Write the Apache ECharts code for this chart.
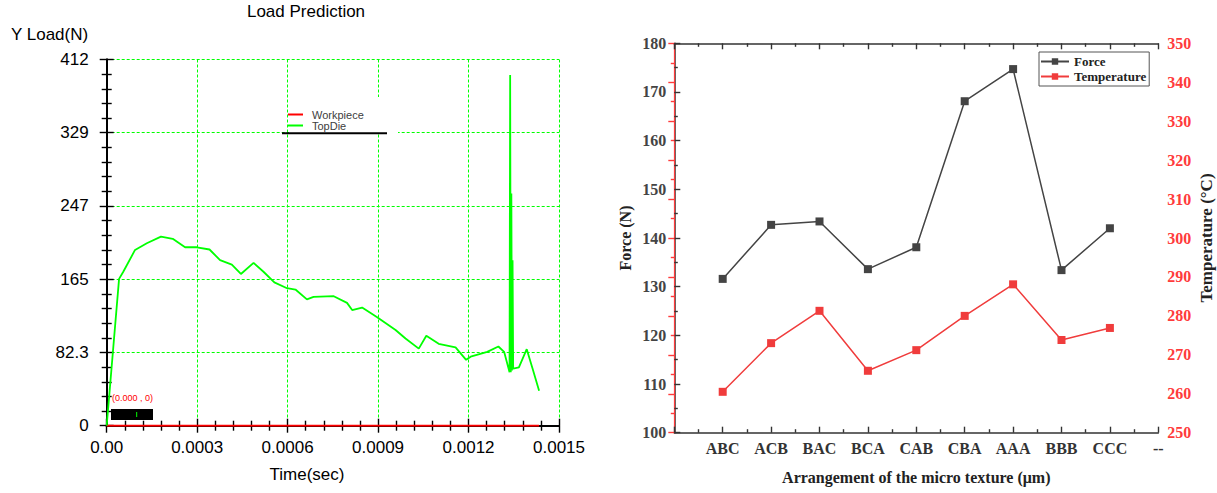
<!DOCTYPE html>
<html>
<head>
<meta charset="utf-8">
<title>Load Prediction / Force and Temperature</title>
<script src="https://cdn.jsdelivr.net/npm/echarts@6.0.0/dist/echarts.min.js"></script>
<style>
  html, body { margin: 0; padding: 0; background: #fff; }
  #main { width: 1217px; height: 493px; }
</style>
</head>
<body>
<div id="main"></div>
<script>
// left panel: load prediction (time in sec, load in N)
var topDieTime = [0, 0.000041, 0.000055, 0.000094, 0.000133, 0.00018, 0.000219, 0.00026, 0.000299,
  0.000341, 0.000376, 0.000415, 0.000445, 0.000487, 0.00052, 0.000556, 0.000598, 0.000626, 0.000664,
  0.000686, 0.000753, 0.000797, 0.000814, 0.000847, 0.000897, 0.000958, 0.000991, 0.001035, 0.00106,
  0.001101, 0.001157, 0.001192, 0.001207, 0.001262, 0.001299, 0.001318, 0.001336, 0.001338, 0.00134,
  0.001342, 0.001344, 0.001346, 0.001348, 0.001367, 0.001393, 0.001412, 0.001434];
var topDieLoad = [0, 165, 173, 197.5, 205, 212.5, 210, 200.5, 200.5,
  198, 186, 181, 170.5, 183, 173, 161, 154.5, 153, 142,
  144.7, 145.5, 138, 130, 132.7, 121.9, 107.6, 98, 86.6, 101,
  92, 88, 74, 77.6, 83, 89, 83, 60, 394, 60,
  261, 62, 186, 64, 65.6, 86, 64.5, 39.3];
var workpieceTime = [0, 0.001434];
var workpieceLoad = [0, 0];
var loadTickLabels = ['0', '82.3', '165', '247', '329', '412'];

// right panel: force / temperature per texture arrangement
var categories = ['ABC', 'ACB', 'BAC', 'BCA', 'CAB', 'CBA', 'AAA', 'BBB', 'CCC'];
var force = [131.6, 142.7, 143.4, 133.6, 138.1, 168.1, 174.7, 133.4, 142.0];
var temperature = [260.5, 273.0, 281.3, 265.9, 271.2, 280.0, 288.1, 273.8, 276.9];
var arrangeTickLabels = [''].concat(categories, ['--']);

var sans = 'Liberation Sans, Arial, sans-serif';
var serif = 'Liberation Serif, Times New Roman, serif';
var red = '#ff3b3b';

function zip(a, b) {
  var out = [];
  for (var i = 0; i < a.length; i++) out.push([a[i], b[i]]);
  return out;
}

// ticks drawn towards the plot (negative length)
function ticks(color, major, minor, split) {
  return {
    axisTick: { show: true, inside: false, length: -major, lineStyle: { color: color, width: 1.4 } },
    minorTick: { show: true, splitNumber: split, length: -minor, lineStyle: { color: color, width: 1.4 } }
  };
}

var chart = echarts.init(document.getElementById('main'), null, { renderer: 'svg' });

var greenGrid = { show: true, lineStyle: { color: '#00ff00', width: 1, type: [3, 2] } };
var leftTicks = ticks('#000', 7, 5, 5);
var rightTicks = ticks('#333', 6, 3.5, 2);
var redTicks = ticks(red, 6, 3.5, 2);

chart.setOption({
  animation: false,
  title: [
    { text: 'Load Prediction', left: 306, top: 3, padding: 0, textAlign: 'center',
      textStyle: { fontFamily: sans, fontSize: 17, fontWeight: 'normal', color: '#000' } },
    { text: 'Y Load(N)', left: 11, top: 26, padding: 0,
      textStyle: { fontFamily: sans, fontSize: 17, fontWeight: 'normal', color: '#000' } },
    { text: 'Time(sec)', left: 307, top: 466, padding: 0, textAlign: 'center',
      textStyle: { fontFamily: sans, fontSize: 17, fontWeight: 'normal', color: '#000' } }
  ],
  legend: [
    { data: ['Workpiece', 'TopDie'], left: 288, top: 109, orient: 'vertical', padding: 0,
      icon: 'rect', itemWidth: 15, itemHeight: 2, itemGap: 0,
      textStyle: { fontFamily: sans, fontSize: 11, lineHeight: 11, color: '#404040', padding: [0, 0, 0, 4] } },
    { data: ['Force', 'Temperature'], left: 1039, top: 52, orient: 'vertical',
      padding: [3, 3, 3, 1], itemWidth: 28, itemHeight: 8, itemGap: 2,
      borderColor: '#555', borderWidth: 1,
      textStyle: { fontFamily: serif, fontSize: 13, fontWeight: 'bold', color: '#222' } }
  ],
  grid: [
    { left: 106.7, top: 59.5, width: 452.3, height: 366.2 },
    { left: 674.3, top: 43.3, width: 484, height: 389.4 }
  ],
  xAxis: [
    Object.assign({ type: 'value', gridIndex: 0, min: 0, max: 0.0015, interval: 0.0003,
      axisLine: { lineStyle: { color: '#000', width: 2 } },
      splitLine: greenGrid,
      axisLabel: { margin: 13, fontFamily: sans, fontSize: 17, color: '#000',
        formatter: function (v) { return v === 0 ? '0.00' : v.toFixed(4); } } }, leftTicks),
    Object.assign({ type: 'value', gridIndex: 0, position: 'top', min: 0, max: 0.0015, interval: 0.0003,
      axisLine: { lineStyle: { color: '#000', width: 2 } },
      splitLine: { show: false }, axisLabel: { show: false } }, leftTicks),
    Object.assign({ type: 'value', gridIndex: 1, min: 0, max: 10, interval: 1,
      name: 'Arrangement of the micro texture (μm)', nameLocation: 'middle', nameGap: 37,
      nameTextStyle: { fontFamily: serif, fontSize: 16, fontWeight: 'bold', color: '#222' },
      axisLine: { lineStyle: { color: '#333', width: 1.5 } },
      splitLine: { show: false },
      axisLabel: { margin: 8, fontFamily: serif, fontSize: 16, fontWeight: 'bold', color: '#333',
        formatter: function (v) { return arrangeTickLabels[Math.round(v)]; } } }, rightTicks),
    Object.assign({ type: 'value', gridIndex: 1, position: 'top', min: 0, max: 10, interval: 1,
      axisLine: { lineStyle: { color: '#333', width: 1.5 } },
      splitLine: { show: false }, axisLabel: { show: false } }, rightTicks)
  ],
  yAxis: [
    Object.assign({ type: 'value', gridIndex: 0, min: 0, max: 411.5, interval: 82.3,
      axisLine: { lineStyle: { color: '#000', width: 2 } },
      splitLine: greenGrid,
      axisLabel: { margin: 18, fontFamily: sans, fontSize: 17, color: '#000',
        formatter: function (v) { return loadTickLabels[Math.round(v / 82.3)]; } } }, leftTicks),
    Object.assign({ type: 'value', gridIndex: 0, position: 'right', min: 0, max: 411.5, interval: 82.3,
      axisLine: { lineStyle: { color: '#000', width: 2 } },
      splitLine: { show: false }, axisLabel: { show: false } }, leftTicks),
    Object.assign({ type: 'value', gridIndex: 1, min: 100, max: 180, interval: 10,
      name: 'Force (N)', nameLocation: 'middle', nameGap: 41,
      nameTextStyle: { fontFamily: serif, fontSize: 16, fontWeight: 'bold', color: '#222' },
      axisLine: { lineStyle: { color: '#333', width: 1.5 } },
      splitLine: { show: false },
      axisLabel: { margin: 8, fontFamily: serif, fontSize: 16, fontWeight: 'bold', color: '#444' } }, rightTicks),
    Object.assign({ type: 'value', gridIndex: 1, position: 'right', min: 250, max: 350, interval: 10,
      name: 'Temperature (°C)', nameLocation: 'middle', nameGap: 40,
      nameTextStyle: { fontFamily: serif, fontSize: 17, fontWeight: 'bold', color: '#222' },
      axisLine: { lineStyle: { color: red, width: 1.2 } },
      splitLine: { show: false },
      axisLabel: { margin: 9, fontFamily: serif, fontSize: 16, fontWeight: 'bold', color: red } }, redTicks)
  ],
  graphic: [
    { type: 'rect', z: 1, shape: { x: 289, y: 97, width: 109, height: 36 }, style: { fill: '#fff' } },
    { type: 'line', z: 1, shape: { x1: 282, y1: 133.3, x2: 387, y2: 133.3 }, style: { stroke: '#000', lineWidth: 2 } },
    { type: 'rect', z: 5, shape: { x: 111, y: 409, width: 42, height: 11 }, style: { fill: '#000' } },
    { type: 'line', z: 6, shape: { x1: 136.7, y1: 412, x2: 136.7, y2: 417 }, style: { stroke: '#00ff00', lineWidth: 1 } },
    { type: 'text', z: 6, x: 112, y: 398, style: { text: '(0.000 , 0)', fill: '#ff0000',
      font: '9px ' + sans, verticalAlign: 'middle' } }
  ],
  series: [
    { name: 'Workpiece', type: 'line', xAxisIndex: 0, yAxisIndex: 0, showSymbol: false,
      color: '#ff0000', lineStyle: { width: 2 }, data: zip(workpieceTime, workpieceLoad) },
    { name: 'TopDie', type: 'line', xAxisIndex: 0, yAxisIndex: 0, showSymbol: false,
      color: '#00ff00', lineStyle: { width: 1.8 }, data: zip(topDieTime, topDieLoad) },
    { name: 'Force', type: 'line', xAxisIndex: 2, yAxisIndex: 2, symbol: 'rect', symbolSize: 8,
      color: '#444', lineStyle: { width: 1.5 },
      data: categories.map(function (c, i) { return [i + 1, force[i]]; }) },
    { name: 'Temperature', type: 'line', xAxisIndex: 2, yAxisIndex: 3, symbol: 'rect', symbolSize: 8,
      color: '#f03c3c', lineStyle: { width: 1.5 },
      data: categories.map(function (c, i) { return [i + 1, temperature[i]]; }) }
  ]
});
</script>
</body>
</html>
